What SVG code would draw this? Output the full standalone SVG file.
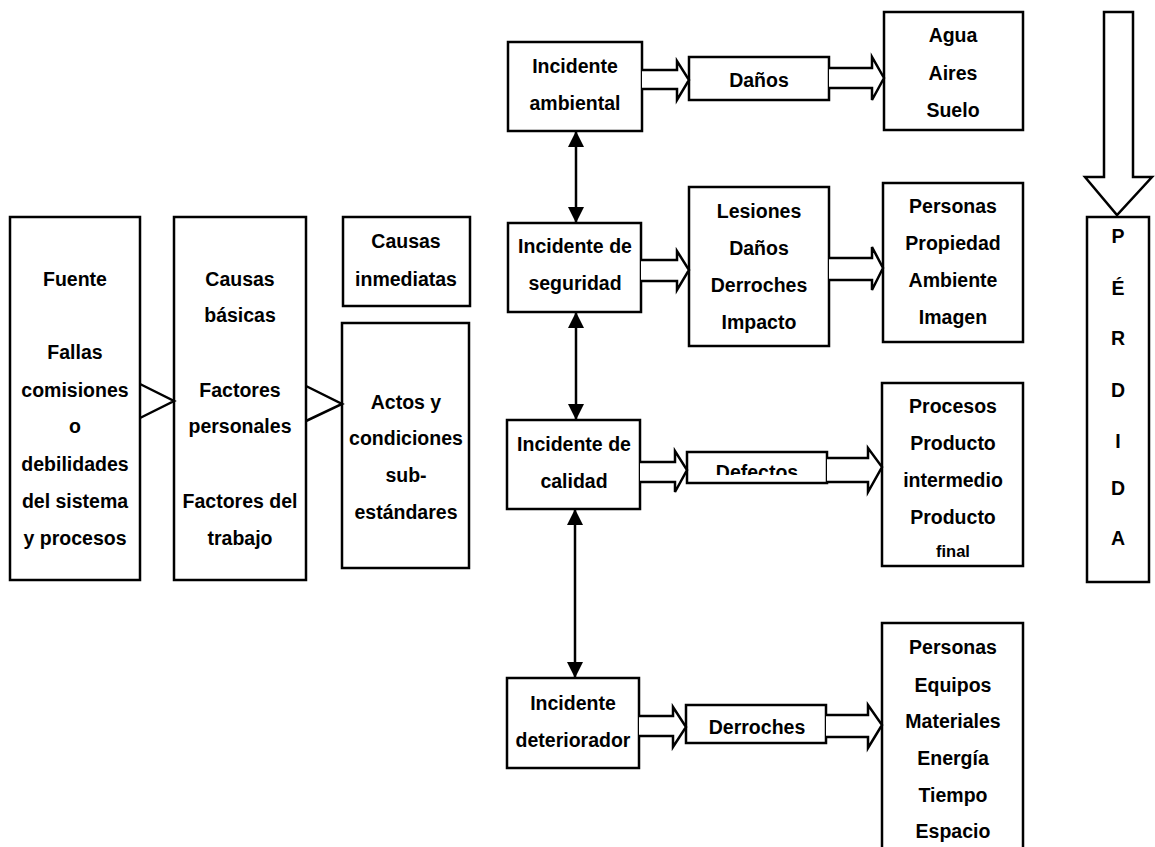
<svg xmlns="http://www.w3.org/2000/svg" width="1155" height="847" viewBox="0 0 1155 847">
<style>
.box{fill:#fff;stroke:#000;stroke-width:2.5}
.t{font-family:"Liberation Sans",Arial,sans-serif;font-weight:bold;font-size:19.5px;text-anchor:middle;fill:#000}
.s{font-size:16.5px}
.ha{fill:#fff;stroke:#000;stroke-width:2.5;stroke-linejoin:miter}
.ln{fill:none;stroke:#000;stroke-width:2.5}
</style>
<defs>
<marker id="ah" viewBox="0 0 16 16" refX="16" refY="8" markerWidth="16" markerHeight="16" markerUnits="userSpaceOnUse" orient="auto-start-reverse">
<path d="M0,0 L16,8 L0,16 z" fill="#000"/>
</marker>
<clipPath id="clipDef"><rect x="687" y="452" width="140" height="23"/></clipPath>
</defs>
<rect width="1155" height="847" fill="#fff"/>

<g id="fuente">
<rect class="box" x="10" y="217" width="130" height="363"/>
<text class="t" x="75" y="286">Fuente</text>
<text class="t" x="75" y="359">Fallas</text>
<text class="t" x="75" y="397">comisiones</text>
<text class="t" x="75" y="433">o</text>
<text class="t" x="75" y="471">debilidades</text>
<text class="t" x="75" y="508">del sistema</text>
<text class="t" x="75" y="545">y procesos</text>
</g>
<g id="basicas">
<rect class="box" x="174" y="217" width="132" height="363"/>
<text class="t" x="240" y="286">Causas</text>
<text class="t" x="240" y="322">básicas</text>
<text class="t" x="240" y="397">Factores</text>
<text class="t" x="240" y="433">personales</text>
<text class="t" x="240" y="508">Factores del</text>
<text class="t" x="240" y="545">trabajo</text>
</g>
<g id="inmediatas">
<rect class="box" x="343" y="217" width="127" height="89"/>
<text class="t" x="406" y="248">Causas</text>
<text class="t" x="406" y="286">inmediatas</text>
</g>
<g id="actos">
<rect class="box" x="342" y="323" width="127" height="245"/>
<text class="t" x="406" y="409">Actos y</text>
<text class="t" x="406" y="445">condiciones</text>
<text class="t" x="406" y="482">sub-</text>
<text class="t" x="406" y="519">estándares</text>
</g>

<g id="ambiental">
<rect class="box" x="508" y="42" width="134" height="89"/>
<text class="t" x="575" y="73">Incidente</text>
<text class="t" x="575" y="110">ambiental</text>
</g>
<g id="danos">
<rect class="box" x="689" y="57" width="140" height="43"/>
<text class="t" x="759" y="87">Daños</text>
</g>
<g id="agua">
<rect class="box" x="884" y="12" width="139" height="118"/>
<text class="t" x="953" y="42">Agua</text>
<text class="t" x="953" y="80">Aires</text>
<text class="t" x="953" y="117">Suelo</text>
</g>
<g id="seguridad">
<rect class="box" x="508" y="223" width="133" height="89"/>
<text class="t" x="575" y="253">Incidente de</text>
<text class="t" x="575" y="290">seguridad</text>
</g>
<g id="lesiones">
<rect class="box" x="689" y="187" width="140" height="159"/>
<text class="t" x="759" y="218">Lesiones</text>
<text class="t" x="759" y="255">Daños</text>
<text class="t" x="759" y="292">Derroches</text>
<text class="t" x="759" y="329">Impacto</text>
</g>
<g id="personas1">
<rect class="box" x="883" y="183" width="140" height="159"/>
<text class="t" x="953" y="213">Personas</text>
<text class="t" x="953" y="250">Propiedad</text>
<text class="t" x="953" y="287">Ambiente</text>
<text class="t" x="953" y="324">Imagen</text>
</g>
<g id="calidad">
<rect class="box" x="507" y="420" width="133" height="89"/>
<text class="t" x="574" y="451">Incidente de</text>
<text class="t" x="574" y="488">calidad</text>
</g>
<g id="defectos">
<rect class="box" x="687" y="452" width="140" height="31"/>
<text class="t" x="757" y="479" clip-path="url(#clipDef)">Defectos</text>
</g>
<g id="procesos">
<rect class="box" x="882" y="383" width="141" height="183"/>
<text class="t" x="953" y="413">Procesos</text>
<text class="t" x="953" y="450">Producto</text>
<text class="t" x="953" y="487">intermedio</text>
<text class="t" x="953" y="524">Producto</text>
<text class="t s" x="953" y="557">final</text>
</g>
<g id="deteriorador">
<rect class="box" x="507" y="678" width="132" height="90"/>
<text class="t" x="573" y="710">Incidente</text>
<text class="t" x="573" y="747">deteriorador</text>
</g>
<g id="derroches">
<rect class="box" x="686" y="705" width="140" height="38"/>
<text class="t" x="757" y="734">Derroches</text>
</g>
<g id="personas2">
<rect class="box" x="882" y="623" width="141" height="230"/>
<text class="t" x="953" y="654">Personas</text>
<text class="t" x="953" y="692">Equipos</text>
<text class="t" x="953" y="728">Materiales</text>
<text class="t" x="953" y="765">Energía</text>
<text class="t" x="953" y="802">Tiempo</text>
<text class="t" x="953" y="838">Espacio</text>
</g>
<g id="perdida">
<polygon class="ha" points="1104,12 1133,12 1133,177 1152,177 1117,215 1085,177 1104,177"/>
<rect class="box" x="1087" y="217" width="62" height="365"/>
<text class="t" x="1118" y="243">P</text>
<text class="t" x="1118" y="295">É</text>
<text class="t" x="1118" y="345">R</text>
<text class="t" x="1118" y="397">D</text>
<text class="t" x="1118" y="448">I</text>
<text class="t" x="1118" y="495">D</text>
<text class="t" x="1118" y="545">A</text>
</g>

<g id="connectors">
<polyline class="ln" points="140,384 174,401 140,418"/>
<polyline class="ln" points="306,386 342,404 306,421"/>
<line class="ln" x1="576" y1="131" x2="576" y2="223" marker-start="url(#ah)" marker-end="url(#ah)"/>
<line class="ln" x1="576" y1="312" x2="576" y2="420" marker-start="url(#ah)" marker-end="url(#ah)"/>
<line class="ln" x1="575" y1="509" x2="575" y2="678" marker-start="url(#ah)" marker-end="url(#ah)"/>
<path class="ha" d="M642,70 L677,70 L677,61 L689,80 L677,100 L677,89 L642,89"/>
<path class="ha" d="M829,68 L872,68 L872,57 L884,78 L872,100 L872,88 L829,88"/>
<path class="ha" d="M641,260 L677,260 L677,251 L689,270 L677,290 L677,281 L641,281"/>
<path class="ha" d="M829,258 L872,258 L872,247 L883,268 L872,290 L872,280 L829,280"/>
<path class="ha" d="M640,462 L675,462 L675,451 L687,470 L675,492 L675,482 L640,482"/>
<path class="ha" d="M827,458 L868,458 L868,448 L882,467 L868,492 L868,482 L827,482"/>
<path class="ha" d="M639,716 L673,716 L673,707 L686,727 L673,747 L673,736 L639,736"/>
<path class="ha" d="M826,715 L868,715 L868,705 L882,725 L868,748 L868,737 L826,737"/>
</g>
</svg>
